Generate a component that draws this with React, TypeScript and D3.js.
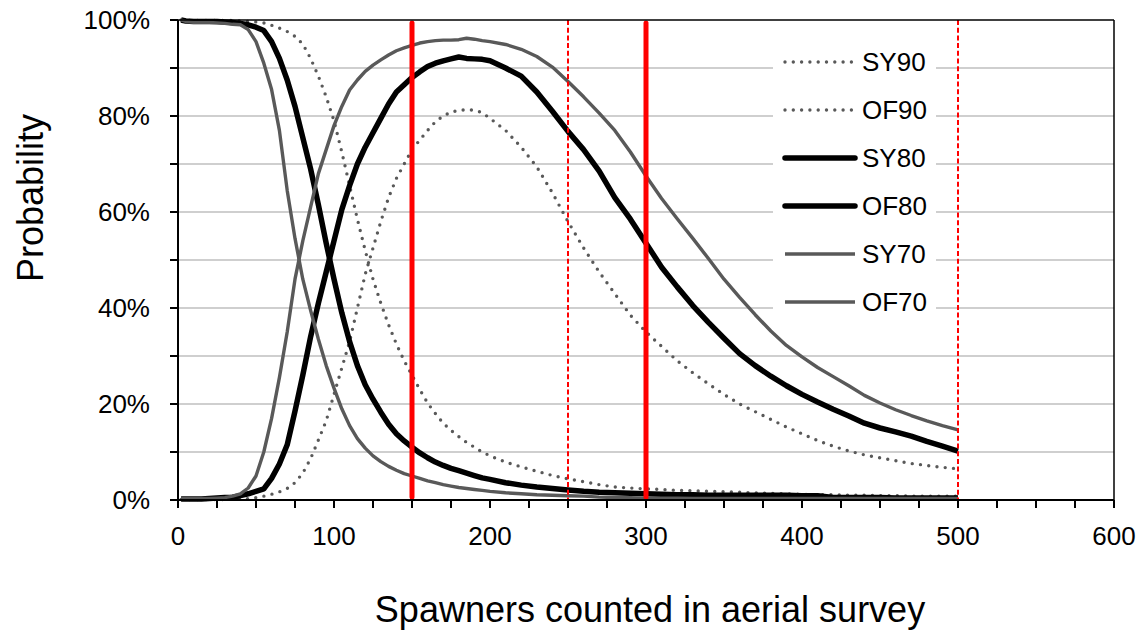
import React from "react";
import * as d3 from "d3";

const xs = [2,5,10,15,20,25,30,35,40,45,50,55,60,65,70,75,80,85,90,95,100,105,110,115,120,125,130,135,140,145,150,155,160,165,170,175,180,185,190,195,200,210,220,230,240,250,260,270,280,290,300,310,320,330,340,350,360,370,380,390,400,410,420,430,440,450,460,470,480,490,500];

const SY90 = [100,99.9,99.9,99.9,99.9,99.9,99.9,99.9,99.8,99.7,99.6,99.4,98.9,98.3,97.6,96.6,95,92,88.3,84,79,72.5,65.5,58.5,52,46,41,36.5,32.5,29,26,23,20.2,18,16,14.5,13.2,12,11,10,9.2,7.9,6.9,6,5.1,4.4,3.8,3.2,2.7,2.5,2.3,2.2,2,1.9,1.8,1.7,1.6,1.5,1.4,1.3,1.2,1.1,1.1,1,1,0.9,0.9,0.8,0.8,0.8,0.8];
const OF90 = [0.1,0.1,0.1,0.1,0.1,0.1,0.1,0.2,0.2,0.3,0.5,0.8,1.2,1.7,2.4,3.6,5.6,8.6,12.5,16.5,22,27.5,33,40,47,52.5,58,63,67,70,73,75,77,78.8,80,80.8,81.2,81.3,81.2,80.7,79.5,77,73.5,69.4,64,58,52.5,47.5,43,38.5,35,32,29,26.5,24.2,22,20,18.4,16.8,15.2,13.8,12.4,11.2,10.2,9.4,8.8,8.2,7.6,7.2,6.8,6.5];
const SY80 = [100,99.8,99.7,99.7,99.7,99.7,99.6,99.5,99.3,99,98.5,97.8,95.5,92,87.5,82,75.5,69,61.5,53.5,46,39,33,28,24,21,18.3,15.8,13.8,12.3,11,9.8,8.8,7.9,7.2,6.6,6.1,5.6,5.1,4.6,4.3,3.6,3.1,2.7,2.4,2.1,1.8,1.6,1.5,1.4,1.3,1.2,1.1,1.1,1,1,1,1,1,1,0.9,0.9,0.5,0.5,0.5,0.5,0.4,0.4,0.4,0.4,0.4];
const OF80 = [0.2,0.2,0.2,0.2,0.3,0.4,0.5,0.6,0.9,1.3,1.8,2.3,4.5,7.5,11.5,18.5,26,34,41,47.5,54,60.5,65.5,70,73.5,76.5,79.5,82.5,85,86.5,88,89.2,90.3,91,91.5,91.9,92.3,92,91.9,91.8,91.5,90,88.3,85,81,76.8,73,68.5,63,58.5,53.5,48.5,44.4,40.5,37,33.7,30.5,28,25.8,23.8,22,20.4,18.9,17.5,16,15,14.2,13.3,12.2,11.2,10.2];
const SY70 = [100,99.7,99.5,99.5,99.5,99.4,99.3,99.1,99,98,95.5,91,85.5,77,64.5,54.5,46,39.5,33.5,28,23.3,19,15.5,12.8,10.8,9.2,8,7,6.2,5.5,5,4.5,4,3.6,3.2,2.9,2.6,2.4,2.2,2,1.8,1.5,1.3,1.1,1,0.9,0.8,0.6,0.5,0.5,0.4,0.4,0.4,0.3,0.3,0.3,0.3,0.3,0.3,0.3,0.3,0.3,0.3,0.3,0.3,0.3,0.3,0.3,0.3,0.3,0.3];
const OF70 = [0.3,0.3,0.3,0.3,0.3,0.4,0.5,0.8,1.3,2.5,5,10,17,25.5,35,46,54,61,68,73,78,82,85.4,87.5,89.3,90.6,91.7,92.7,93.6,94.2,94.7,95.2,95.5,95.7,95.8,95.8,95.9,96.2,96,95.7,95.5,94.9,93.9,92.4,90.2,87.2,84,80.6,77,72.5,67.5,62.8,58.6,54.5,50.3,46,42.2,38.6,35.2,32.2,29.8,27.6,25.7,23.8,21.8,20.2,18.8,17.6,16.5,15.5,14.6];

const seriesNames = ["SY90", "OF90", "SY80", "OF80", "SY70", "OF70"];
const seriesValues = [SY90, OF90, SY80, OF80, SY70, OF70];

const solidRedX = [150, 300];
const dashedRedX = [250, 500];

const xTicksMajor = [0, 100, 200, 300, 400, 500, 600];
const yTickLabels = [0, 20, 40, 60, 80, 100];

const FONT = "'Liberation Sans', Arial, sans-serif";
const GRAY = "#595959";

function styleFor(name: string) {
  if (name.endsWith("90")) return { stroke: GRAY, width: 3.4, dash: "0 8.3", cap: "round" as const };
  if (name.endsWith("80")) return { stroke: "#000000", width: 5.5, dash: "", cap: "butt" as const };
  return { stroke: GRAY, width: 3.4, dash: "", cap: "butt" as const };
}

export default function App() {
  const W = 1146, H = 630;
  const x = d3.scaleLinear().domain([0, 600]).range([178, 1114]);
  const y = d3.scaleLinear().domain([0, 100]).range([500, 20]);
  const line = d3.line<[number, number]>().x(d => x(d[0])).y(d => y(d[1]));

  const minorX = d3.range(0, 601, 25);
  const gridY = d3.range(10, 100, 10);
  const tickY = d3.range(0, 101, 10);

  const legendX0 = 785, legendX1 = 855, legendY0 = 62, legendStep = 48;

  return (
    <svg width={W} height={H} style={{ position: "absolute", left: 0, top: 0, background: "#fff" }} fontFamily={FONT}>
      <rect x={0} y={0} width={W} height={H} fill="#fff" />
      {/* gridlines */}
      {gridY.map(v => (
        <line key={"g" + v} x1={x(0)} x2={x(600)} y1={y(v)} y2={y(v)} stroke="#BFBFBF" strokeWidth={1.5} />
      ))}
      {/* legend background */}
      <rect x={773} y={36} width={163} height={290} fill="#fff" />
      {/* series */}
      {seriesNames.map((n, i) => {
        const s = styleFor(n);
        const pts = xs.map((xv, j) => [xv, seriesValues[i][j]] as [number, number]);
        return (
          <path key={n} d={line(pts) || ""} fill="none" stroke={s.stroke} strokeWidth={s.width}
            strokeDasharray={s.dash || undefined} strokeLinecap={s.cap} strokeLinejoin="round" />
        );
      })}
      {/* red reference lines */}
      {dashedRedX.map(v => (
        <line key={"d" + v} x1={x(v)} x2={x(v)} y1={y(100)} y2={y(0)} stroke="#FF0000" strokeWidth={2} strokeDasharray="5 2.7" />
      ))}
      {solidRedX.map(v => (
        <line key={"s" + v} x1={x(v)} x2={x(v)} y1={y(99.4)} y2={y(0.6)} stroke="#FF0000" strokeWidth={5} strokeLinecap="round" />
      ))}
      {/* plot frame */}
      <line x1={x(0)} x2={x(600)} y1={y(100)} y2={y(100)} stroke="#000" strokeWidth={1.5} />
      <line x1={x(600)} x2={x(600)} y1={y(100)} y2={y(0)} stroke="#000" strokeWidth={1.5} />
      <line x1={x(0)} x2={x(600)} y1={y(0)} y2={y(0)} stroke="#000" strokeWidth={2} />
      <line x1={x(0)} x2={x(0)} y1={y(100)} y2={y(0)} stroke="#000" strokeWidth={2} />
      {/* y ticks */}
      {tickY.map(v => (
        <line key={"yt" + v} x1={x(0) - 8} x2={x(0)} y1={y(v)} y2={y(v)} stroke="#000" strokeWidth={2} />
      ))}
      {yTickLabels.map(v => (
        <text key={"yl" + v} x={150} y={y(v)} dy="0.35em" textAnchor="end" fontSize={26} fill="#000">{v + "%"}</text>
      ))}
      {/* x ticks */}
      {minorX.map(v => (
        <line key={"xt" + v} x1={x(v)} x2={x(v)} y1={y(0)} y2={y(0) + 8} stroke="#000" strokeWidth={2} />
      ))}
      {xTicksMajor.map(v => (
        <text key={"xl" + v} x={x(v)} y={545} textAnchor="middle" fontSize={26} fill="#000">{v}</text>
      ))}
      {/* axis titles */}
      <text x={650} y={622} textAnchor="middle" fontSize={36} fill="#000">Spawners counted in aerial survey</text>
      <text transform={`translate(43,198) rotate(-90)`} textAnchor="middle" fontSize={36} fill="#000">Probability</text>
      {/* legend */}
      {seriesNames.map((n, i) => {
        const s = styleFor(n);
        const ly = legendY0 + i * legendStep;
        return (
          <g key={"lg" + n}>
            <line x1={legendX0} x2={legendX1} y1={ly} y2={ly} stroke={s.stroke} strokeWidth={s.width}
              strokeDasharray={s.dash || undefined} strokeLinecap={n.endsWith("80") ? "round" : s.cap} />
            <text x={862} y={ly} dy="0.35em" fontSize={26} fill="#000">{n}</text>
          </g>
        );
      })}
    </svg>
  );
}
